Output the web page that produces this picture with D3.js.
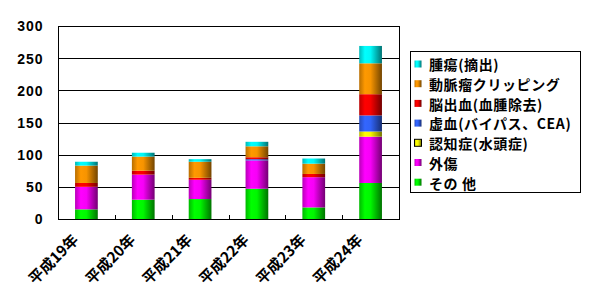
<!DOCTYPE html>
<html><head><meta charset="utf-8">
<script src="https://cdn.jsdelivr.net/npm/d3@7"></script>
<style>
body{margin:0;background:#fff;}
svg{display:block;}
text{font-family:"Noto Sans CJK JP","Liberation Sans",sans-serif;font-weight:bold;fill:#000;}
</style></head><body>
<svg id="c" width="589" height="307"></svg>
<script>
const categories = ["平成19年","平成20年","平成21年","平成22年","平成23年","平成24年"];
const seriesNames = ["その 他","外傷","認知症(水頭症)","虚血(バイパス、CEA)","脳出血(血腫除去)","動脈瘤クリッピング","腫瘍(摘出)"];
const seriesColors = ["#00ff00","#ff00ff","#ffff00","#3366ff","#ff0000","#ff9900","#00ffff"];
const other     = [15, 30, 31, 47, 18, 56];
const trauma    = [35, 39, 30, 44, 47, 72];
const hydro     = [0, 0, 0, 0, 0, 8];
const ischemia  = [0, 0, 0, 2, 0, 25];
const ich       = [6, 6, 3, 3, 5, 33];
const aneurysm  = [27, 22, 25, 17, 16, 48];
const tumor     = [6, 6, 4, 7, 8, 27];
const yTicks = [0, 50, 100, 150, 200, 250, 300];

const seriesValues = [other, trauma, hydro, ischemia, ich, aneurysm, tumor];
const keys = seriesNames;
const rows = categories.map((c, i) => {
  const r = {cat: c};
  keys.forEach((k, j) => r[k] = seriesValues[j][i]);
  return r;
});

const svg = d3.select("#c");
const m = {l: 58, r: 399, t: 26, b: 219};
const x = d3.scaleBand().domain(categories).range([m.l, m.r]).paddingInner(0.6).paddingOuter(0.3);
const xo = d3.scaleBand().domain(categories).range([m.l, m.r]);
const y = d3.scaleLinear().domain([0, 300]).range([m.b, m.t]);

// gradients
const defs = svg.append("defs");
seriesColors.forEach((col, i) => {
  const g = defs.append("linearGradient").attr("id", "g" + i).attr("x1", "0").attr("x2", "1").attr("y1", "0").attr("y2", "0");
  const c = d3.rgb(col);
  const sh = f => d3.rgb(c.r * f, c.g * f, c.b * f).toString();
  g.append("stop").attr("offset", "0").attr("stop-color", sh(0.72));
  g.append("stop").attr("offset", "0.25").attr("stop-color", sh(1));
  g.append("stop").attr("offset", "0.5").attr("stop-color", sh(0.97));
  g.append("stop").attr("offset", "1").attr("stop-color", sh(0.45));
});

// gridlines
svg.append("g").selectAll("line").data(yTicks.filter(d => d > 0)).join("line")
  .attr("x1", m.l).attr("x2", m.r).attr("y1", d => Math.round(y(d)) + 0.5).attr("y2", d => Math.round(y(d)) + 0.5)
  .attr("stroke", "#000").attr("stroke-width", 1);

// bars
const stack = d3.stack().keys(keys)(rows);
svg.append("g").selectAll("g").data(stack).join("g")
  .attr("fill", (d, i) => "url(#g" + i + ")")
  .selectAll("rect").data(d => d).join("rect")
  .attr("x", d => x(d.data.cat))
  .attr("width", x.bandwidth())
  .attr("y", d => y(d[1]))
  .attr("height", d => Math.max(0, y(d[0]) - y(d[1])));

// right border
svg.append("line").attr("x1", m.r + 0.5).attr("x2", m.r + 0.5).attr("y1", m.t).attr("y2", m.b + 1).attr("stroke", "#000");

// y axis
const yAx = svg.append("g").attr("transform", `translate(${m.l + 0.5},0)`)
  .call(d3.axisLeft(y).tickValues(yTicks).tickSize(0).tickPadding(15));
yAx.select(".domain").attr("stroke", "#000").attr("d", `M0,${m.t}V${m.b + 1}`);
yAx.selectAll("text").style("font-family", "'Liberation Sans',Arial,sans-serif").style("font-size", "14px").style("font-weight", "bold").attr("letter-spacing", "1px").attr("dy", "0.35em");

// x axis
svg.append("line").attr("x1", m.l).attr("x2", m.r + 1).attr("y1", m.b + 0.5).attr("y2", m.b + 0.5).attr("stroke", "#000");
svg.append("g").selectAll("line").data(categories.slice(1)).join("line")
  .attr("x1", d => Math.round(xo(d)) + 0.5).attr("x2", d => Math.round(xo(d)) + 0.5)
  .attr("y1", m.b - 4).attr("y2", m.b).attr("stroke", "#000");
svg.append("g").selectAll("text").data(categories).join("text")
  .attr("transform", d => `translate(${xo(d) + xo.bandwidth() / 2 - 7},${m.b + 22}) rotate(-45)`)
  .attr("text-anchor", "end")
  .style("font-size", "15px")
  .text(d => d);

// legend
const lg = svg.append("g");
lg.append("rect").attr("x", 410.5).attr("y", 51.5).attr("width", 170).attr("height", 141).attr("fill", "#fff").attr("stroke", "#000");
const order = d3.range(seriesNames.length).reverse();
order.forEach((si, k) => {
  const yy = 65 + k * 19.7;
  lg.append("rect").attr("x", 414.5).attr("y", yy - 4.5).attr("width", 7).attr("height", 7)
    .attr("fill", "url(#g" + si + ")")
    .attr("stroke", si === 2 ? "#000" : "none");
  lg.append("text").attr("x", 429).attr("y", yy).attr("dy", "0.38em")
    .attr("letter-spacing", "0.6px")
    .style("font-size", "14px").text(seriesNames[si]);
});
</script>
</body></html>
